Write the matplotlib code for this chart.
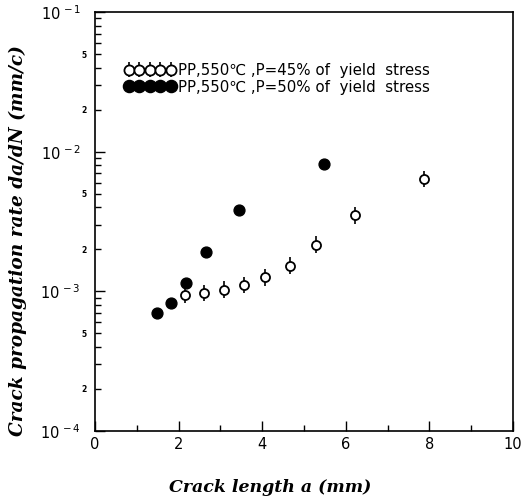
import math

import matplotlib
matplotlib.use("Agg")
import matplotlib.pyplot as plt
from matplotlib.ticker import FixedLocator, FuncFormatter, LogLocator

# ---------------------------------------------------------------------------
# Data
# ---------------------------------------------------------------------------
# P = 45% of yield stress (open circles with error bars)
a_45 = [2.16, 2.61, 3.09, 3.56, 4.07, 4.66, 5.29, 6.21, 7.86]
rate_45 = [9.35e-4, 9.7e-4, 1.03e-3, 1.11e-3, 1.26e-3, 1.53e-3, 2.16e-3, 3.5e-3, 6.4e-3]
rate_45_lo = [8.2e-4, 8.5e-4, 9.0e-4, 9.7e-4, 1.10e-3, 1.34e-3, 1.89e-3, 3.05e-3, 5.6e-3]
rate_45_hi = [1.07e-3, 1.11e-3, 1.18e-3, 1.27e-3, 1.44e-3, 1.75e-3, 2.47e-3, 4.0e-3, 7.3e-3]

# P = 50% of yield stress (filled circles)
a_50 = [1.48, 1.82, 2.18, 2.65, 3.45, 5.49]
rate_50 = [7.0e-4, 8.3e-4, 1.15e-3, 1.9e-3, 3.8e-3, 8.2e-3]

label_45 = "PP,550\u2103 ,P=45% of  yield  stress"
label_50 = "PP,550\u2103 ,P=50% of  yield  stress"

x_major = [0, 2, 4, 6, 8, 10]
x_minor = [1, 3, 5, 7, 9]
y_decades = [-4, -3, -2, -1]

# ---------------------------------------------------------------------------
# Figure
# ---------------------------------------------------------------------------
fig = plt.figure(figsize=(5.23, 4.96), dpi=100)
ax = fig.add_axes([95 / 523, 1 - 431 / 496, 418 / 523, 419 / 496])

err_lo = [r - lo for r, lo in zip(rate_45, rate_45_lo)]
err_hi = [hi - r for r, hi in zip(rate_45, rate_45_hi)]
h45 = ax.errorbar(a_45, rate_45, yerr=[err_lo, err_hi], fmt="o", ms=6.5,
                  mfc="white", mec="black", mew=1.3, ecolor="black",
                  elinewidth=1.2, capsize=0, zorder=3)
h50, = ax.plot(a_50, rate_50, "o", ms=7.8, color="black", zorder=3)

ax.set_yscale("log")
ax.set_xlim(0, 10)
ax.set_ylim(1e-4, 1e-1)

for s in ax.spines.values():
    s.set_linewidth(1.2)

# x ticks
ax.xaxis.set_major_locator(FixedLocator(x_major))
ax.xaxis.set_minor_locator(FixedLocator(x_minor))
ax.tick_params(axis="x", which="major", direction="in", length=7, width=1,
               labelsize=10.5, pad=4, top=False)
ax.tick_params(axis="x", which="minor", direction="in", length=4, width=1,
               top=False)

# y ticks
ax.yaxis.set_major_locator(FixedLocator([10.0 ** d for d in y_decades]))
ax.yaxis.set_major_formatter(
    FuncFormatter(lambda v, p: "10$^{\\,%d}$" % round(math.log10(v))))
ax.yaxis.set_minor_locator(LogLocator(base=10, subs=range(2, 10)))


def minor_fmt(v, p):
    m = round(v / 10 ** math.floor(math.log10(v) + 1e-9))
    return str(m) if m in (2, 5) else ""


ax.yaxis.set_minor_formatter(FuncFormatter(minor_fmt))
ax.tick_params(axis="y", which="major", direction="in", length=7, width=1,
               labelsize=10.5, pad=10, right=False)
ax.tick_params(axis="y", which="minor", direction="in", length=4.5, width=1,
               labelsize=5.5, pad=6, right=False)
for t in ax.yaxis.get_minorticklabels():
    t.set_fontweight("bold")

ax.set_xlabel("Crack length a (mm)", family="DejaVu Serif", style="italic",
              weight="bold", fontsize=12.5, labelpad=14)
ax.xaxis.set_label_coords(0.42, -0.115)
ax.set_ylabel("Crack propagation rate da/dN (mm/c)", family="DejaVu Serif",
              style="italic", weight="bold", fontsize=13.3)
ax.yaxis.set_label_coords(-0.162, 0.455)

leg = ax.legend([h45, h50], [label_45, label_50], loc="upper left",
                bbox_to_anchor=(0.07, 0.878), frameon=False, numpoints=5,
                markerscale=1.12, handlelength=3.4, handletextpad=0.17,
                labelspacing=0.1, borderpad=0, borderaxespad=0,
                prop={"family": "DejaVu Sans", "size": 10.8})

fig.savefig("out.png", dpi=100)
